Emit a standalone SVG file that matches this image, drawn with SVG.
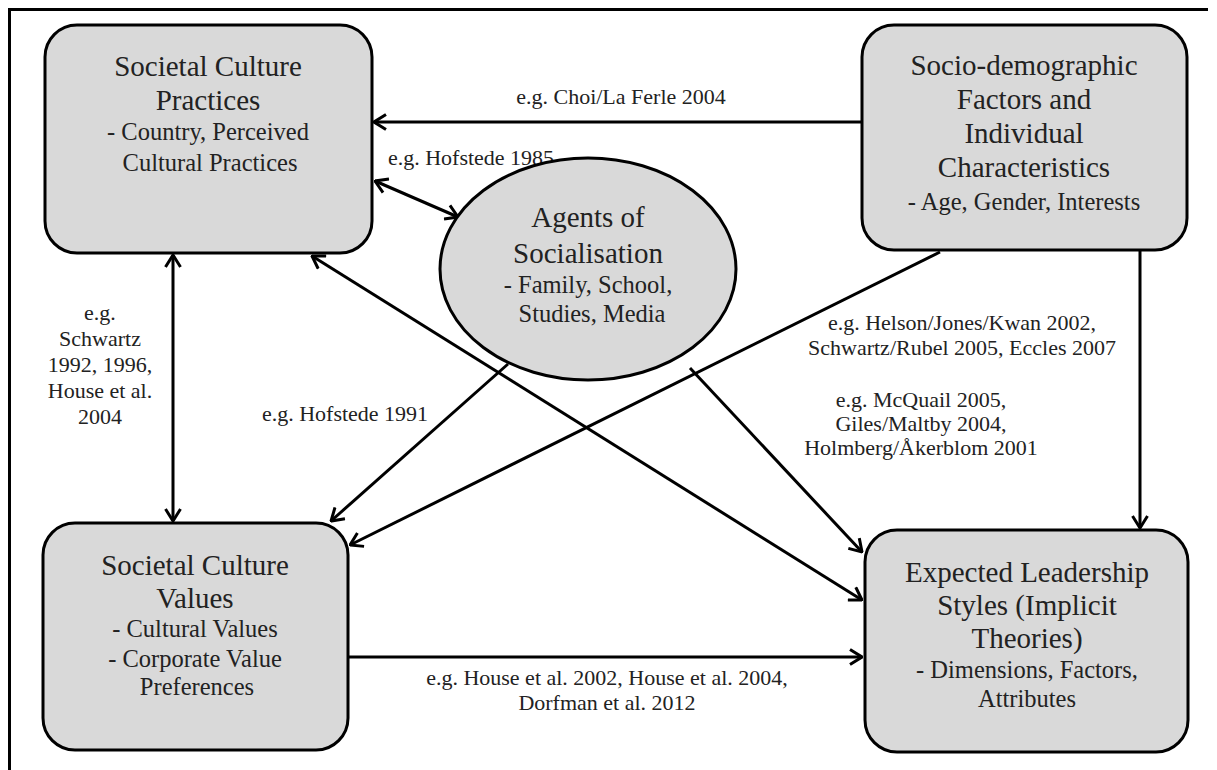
<svg xmlns="http://www.w3.org/2000/svg" width="1217" height="770" viewBox="0 0 1217 770" font-family="Liberation Serif, Times New Roman, DejaVu Serif, serif">
<style>
.box{fill:#d9d9d9;stroke:#000;stroke-width:3}
.t{fill:#222;text-anchor:middle}
.h{font-size:29px}
.s{font-size:24.5px}
.l{font-size:22px}
.c{fill:none;stroke:#000;stroke-width:3}
</style>
<defs>
<marker id="arr" viewBox="0 0 14 18" refX="13" refY="9" markerWidth="14" markerHeight="18" markerUnits="userSpaceOnUse" orient="auto-start-reverse">
<path d="M1,1.5 L13,9 L1,16.5" fill="none" stroke="#000" stroke-width="3"/>
</marker>
</defs>
<rect width="1217" height="770" fill="#fff"/>
<g id="frame">
<line x1="8" y1="9.5" x2="1208" y2="9.5" stroke="#000" stroke-width="3"/>
<line x1="9.5" y1="8" x2="9.5" y2="770" stroke="#000" stroke-width="3"/>
</g>
<g id="connectors">
<line class="c" x1="862" y1="122" x2="374" y2="122" marker-end="url(#arr)"/>
<line class="c" x1="375" y1="181" x2="458" y2="217" marker-start="url(#arr)" marker-end="url(#arr)"/>
<line class="c" x1="173" y1="255" x2="173" y2="521" marker-start="url(#arr)" marker-end="url(#arr)"/>
<line class="c" x1="508" y1="364" x2="331" y2="521" marker-end="url(#arr)"/>
<line class="c" x1="940" y1="252" x2="350" y2="545" marker-end="url(#arr)"/>
<line class="c" x1="312" y1="256" x2="862" y2="600" marker-start="url(#arr)" marker-end="url(#arr)"/>
<line class="c" x1="690" y1="368" x2="862" y2="552" marker-end="url(#arr)"/>
<line class="c" x1="1140" y1="251" x2="1140" y2="528" marker-end="url(#arr)"/>
<line class="c" x1="349" y1="657" x2="862" y2="657" marker-end="url(#arr)"/>
<text class="t l" x="621" y="104">e.g. Choi/La Ferle 2004</text>
<text class="t l" x="471" y="165">e.g. Hofstede 1985</text>
<text class="t l" x="100" y="320">e.g.</text>
<text class="t l" x="100" y="346">Schwartz</text>
<text class="t l" x="100" y="372">1992, 1996,</text>
<text class="t l" x="100" y="398">House et al.</text>
<text class="t l" x="100" y="424">2004</text>
<text class="t l" x="345" y="421">e.g. Hofstede 1991</text>
<text class="t l" x="962" y="330">e.g. Helson/Jones/Kwan 2002,</text>
<text class="t l" x="962" y="355">Schwartz/Rubel 2005, Eccles 2007</text>
<text class="t l" x="921" y="407">e.g. McQuail 2005,</text>
<text class="t l" x="921" y="431">Giles/Maltby 2004,</text>
<text class="t l" x="921" y="455">Holmberg/Åkerblom 2001</text>
<text class="t l" x="607" y="685">e.g. House et al. 2002, House et al. 2004,</text>
<text class="t l" x="607" y="710">Dorfman et al. 2012</text>
</g>
<g id="node-practices">
<rect class="box" x="45" y="25" width="327" height="228" rx="32"/>
<text class="t h" x="208" y="76">Societal Culture</text>
<text class="t h" x="208" y="110">Practices</text>
<text class="t s" x="208" y="140">- Country, Perceived</text>
<text class="t s" x="210" y="171">Cultural Practices</text>
</g>
<g id="node-sociodemo">
<rect class="box" x="862" y="25" width="325" height="225" rx="32"/>
<text class="t h" x="1024" y="75">Socio-demographic</text>
<text class="t h" x="1024" y="109">Factors and</text>
<text class="t h" x="1024" y="143">Individual</text>
<text class="t h" x="1024" y="177">Characteristics</text>
<text class="t s" x="1024" y="210">- Age, Gender, Interests</text>
</g>
<g id="node-agents">
<ellipse class="box" cx="588" cy="269" rx="148" ry="111"/>
<text class="t h" x="588" y="227">Agents of</text>
<text class="t h" x="588" y="263">Socialisation</text>
<text class="t s" x="588" y="293">- Family, School,</text>
<text class="t s" x="592" y="322">Studies, Media</text>
</g>
<g id="node-values">
<rect class="box" x="43" y="523" width="305" height="227" rx="32"/>
<text class="t h" x="195" y="575">Societal Culture</text>
<text class="t h" x="195" y="608">Values</text>
<text class="t s" x="195" y="637">- Cultural Values</text>
<text class="t s" x="195" y="667">- Corporate Value</text>
<text class="t s" x="197" y="695">Preferences</text>
</g>
<g id="node-leadership">
<rect class="box" x="865" y="530" width="323" height="222" rx="32"/>
<text class="t h" x="1027" y="582">Expected Leadership</text>
<text class="t h" x="1027" y="615">Styles (Implicit</text>
<text class="t h" x="1027" y="648">Theories)</text>
<text class="t s" x="1027" y="678">- Dimensions, Factors,</text>
<text class="t s" x="1027" y="707">Attributes</text>
</g>
</svg>
